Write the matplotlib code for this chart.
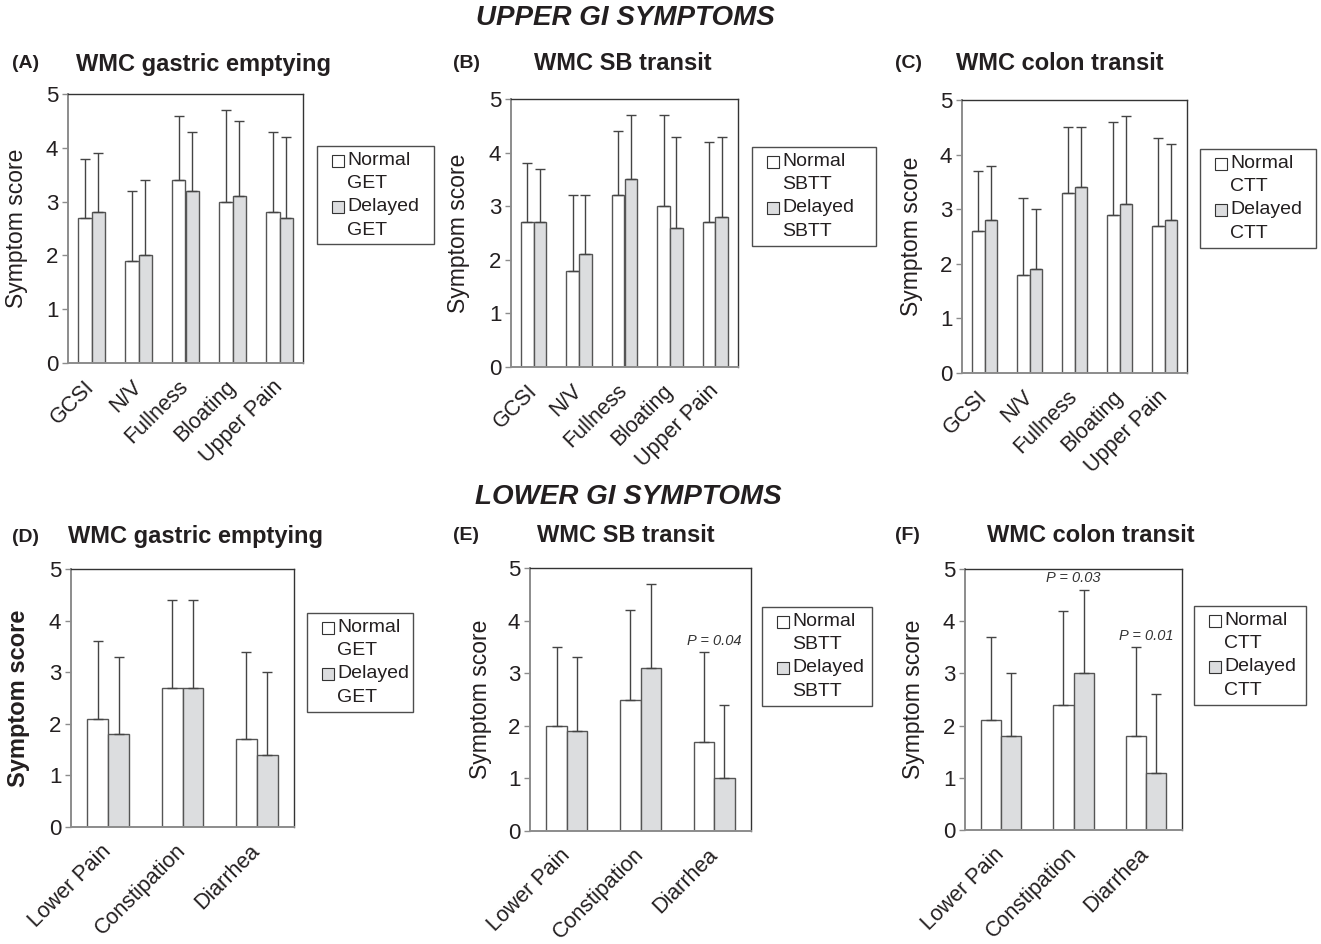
import matplotlib
matplotlib.use('Agg')
import matplotlib.pyplot as plt
import numpy as np
from matplotlib.patches import Patch, Rectangle
from matplotlib.legend_handler import HandlerPatch

plt.rcParams['font.family'] = ['Liberation Sans', 'DejaVu Sans']

W, H = 1321, 944

upper_categories = ['GCSI', 'N/V', 'Fullness', 'Bloating', 'Upper Pain']
lower_categories = ['Lower Pain', 'Constipation', 'Diarrhea']

# Panel A - WMC gastric emptying (upper)
a_normal = [2.7, 1.9, 3.4, 3.0, 2.8]
a_normal_sd = [1.1, 1.3, 1.2, 1.7, 1.5]
a_delayed = [2.8, 2.0, 3.2, 3.1, 2.7]
a_delayed_sd = [1.1, 1.4, 1.1, 1.4, 1.5]

# Panel B - WMC SB transit (upper)
b_normal = [2.7, 1.8, 3.2, 3.0, 2.7]
b_normal_sd = [1.1, 1.4, 1.2, 1.7, 1.5]
b_delayed = [2.7, 2.1, 3.5, 2.6, 2.8]
b_delayed_sd = [1.0, 1.1, 1.2, 1.7, 1.5]

# Panel C - WMC colon transit (upper)
c_normal = [2.6, 1.8, 3.3, 2.9, 2.7]
c_normal_sd = [1.1, 1.4, 1.2, 1.7, 1.6]
c_delayed = [2.8, 1.9, 3.4, 3.1, 2.8]
c_delayed_sd = [1.0, 1.1, 1.1, 1.6, 1.4]

# Panel D - WMC gastric emptying (lower)
d_normal = [2.1, 2.7, 1.7]
d_normal_sd = [1.5, 1.7, 1.7]
d_delayed = [1.8, 2.7, 1.4]
d_delayed_sd = [1.5, 1.7, 1.6]

# Panel E - WMC SB transit (lower)
e_normal = [2.0, 2.5, 1.7]
e_normal_sd = [1.5, 1.7, 1.7]
e_delayed = [1.9, 3.1, 1.0]
e_delayed_sd = [1.4, 1.6, 1.4]

# Panel F - WMC colon transit (lower)
f_normal = [2.1, 2.4, 1.8]
f_normal_sd = [1.6, 1.8, 1.7]
f_delayed = [1.8, 3.0, 1.1]
f_delayed_sd = [1.2, 1.6, 1.5]

e_pvalues = {2: 'P = 0.04'}
f_pvalues = {1: 'P = 0.03', 2: 'P = 0.01'}

yticks = [0, 1, 2, 3, 4, 5]

TXT = '#231f20'
NORMAL_C = 'white'
DELAYED_C = '#dcdddf'
EDGE = '#555555'

fig = plt.figure(figsize=(W / 100, H / 100), dpi=100)


def fx(x):
    return x / W


def fy(y):
    return 1 - y / H


def make_axes(l, t, r, b):
    return fig.add_axes([fx(l), fy(b), (r - l) / W, (b - t) / H])


def square_top(legend, orig_handle, xdescent, ydescent, width, height, fontsize):
    s = 0.62 * fontsize
    return Rectangle((-xdescent + width - s, -ydescent + 0.6 * fontsize), s, s)


panels = [
    ('(A)', 'WMC gastric emptying', upper_categories, a_normal, a_normal_sd, a_delayed, a_delayed_sd,
     'GET', (68, 94, 303, 363), (317, 146, 434, 244), 28, 76, 12, 64, {}, False),
    ('(B)', 'WMC SB transit', upper_categories, b_normal, b_normal_sd, b_delayed, b_delayed_sd,
     'SBTT', (511, 99, 738, 367), (752, 147, 876, 244), 470, 534, 453, 64, {}, False),
    ('(C)', 'WMC colon transit', upper_categories, c_normal, c_normal_sd, c_delayed, c_delayed_sd,
     'CTT', (962, 100, 1187, 373), (1200, 149, 1316, 244), 923, 956, 895, 64, {}, False),
    ('(D)', 'WMC gastric emptying', lower_categories, d_normal, d_normal_sd, d_delayed, d_delayed_sd,
     'GET', (71, 569, 294, 827), (307, 613, 413, 701), 30, 68, 12, 537, {}, True),
    ('(E)', 'WMC SB transit', lower_categories, e_normal, e_normal_sd, e_delayed, e_delayed_sd,
     'SBTT', (530, 568, 751, 831), (762, 607, 872, 705), 492, 537, 453, 536, e_pvalues, False),
    ('(F)', 'WMC colon transit', lower_categories, f_normal, f_normal_sd, f_delayed, f_delayed_sd,
     'CTT', (965, 569, 1182, 830), (1194, 606, 1306, 702), 925, 987, 895, 536, f_pvalues, False),
]

bw = 0.28
for (letter, title, cats, nv, nsd, dv, dsd, grp, box, legbox, labx, titx, letx, tity,
     pvals, boldlab) in panels:
    ax = make_axes(*box)
    x = np.arange(len(cats))
    ekw = dict(ecolor='#444444', elinewidth=1.0, capthick=1.0)
    ax.bar(x - bw / 2, nv, bw, color=NORMAL_C, edgecolor=EDGE, linewidth=1.0,
           yerr=[np.zeros(len(nv)), nsd], capsize=3.5, error_kw=ekw, zorder=2)
    ax.bar(x + bw / 2, dv, bw, color=DELAYED_C, edgecolor=EDGE, linewidth=1.0,
           yerr=[np.zeros(len(dv)), dsd], capsize=3.5, error_kw=ekw, zorder=2)
    ax.set_xlim(-0.5, len(cats) - 0.5)
    ax.set_ylim(0, 5)
    ax.set_yticks(yticks)
    ax.set_yticklabels([str(t) for t in yticks], fontsize=16, color=TXT)
    ax.set_xticks(x)
    ax.set_xticklabels(cats, fontsize=15.5, color=TXT, rotation=45, ha='right',
                       va='center', rotation_mode='anchor')
    ax.tick_params(axis='x', length=0, pad=15)
    ax.tick_params(axis='y', length=4, width=1, color='#8c8c8c', pad=3)
    for s in ['left', 'bottom']:
        ax.spines[s].set_color('#8c8c8c')
        ax.spines[s].set_linewidth(1.4)
    for s in ['top', 'right']:
        ax.spines[s].set_color('#333333')
        ax.spines[s].set_linewidth(1.0)

    if boldlab:
        ax.set_ylabel('Symptom score', fontsize=17, fontweight='bold', color=TXT)
    else:
        ax.set_ylabel('Symptom score', fontsize=16.5, color=TXT)
    l, t, r, b = box
    ax.yaxis.set_label_coords((labx - l) / (r - l), 0.5)

    for idx, txt in pvals.items():
        top = max(nv[idx] + nsd[idx], dv[idx] + dsd[idx])
        ax.text(idx, top + 0.22, txt, fontsize=10.5, style='italic', color='#333333',
                ha='center', va='center')

    handles = [Patch(facecolor=NORMAL_C, edgecolor='#333333', linewidth=0.8),
               Patch(facecolor=DELAYED_C, edgecolor='#333333', linewidth=0.8)]
    lx0, ly0, lx1, ly1 = legbox
    leg = ax.legend(handles, ['Normal\n' + grp, 'Delayed\n' + grp], loc='upper left',
                    bbox_to_anchor=(fx(lx0), fy(ly1), (lx1 - lx0) / W, (ly1 - ly0) / H),
                    bbox_transform=fig.transFigure, mode='expand', fontsize=14,
                    frameon=True, fancybox=False, edgecolor='#222222',
                    handlelength=1.1, handleheight=0.65, handletextpad=0.15,
                    labelspacing=0.3, borderpad=0.3, borderaxespad=0,
                    handler_map={Patch: HandlerPatch(patch_func=square_top)})
    leg.get_frame().set_linewidth(1.0)
    for tx in leg.get_texts():
        tx.set_color(TXT)
        tx.set_linespacing(1.5)

    fig.text(fx(letx), fy(tity), letter, fontsize=14, fontweight='bold', color=TXT,
             ha='left', va='center')
    fig.text(fx(titx), fy(tity), title, fontsize=17, fontweight='bold', color=TXT,
             ha='left', va='center')

fig.text(fx(625), fy(18), 'UPPER GI SYMPTOMS', fontsize=20, fontweight='bold',
         style='italic', color=TXT, ha='center', va='center')
fig.text(fx(628), fy(497), 'LOWER GI SYMPTOMS', fontsize=20, fontweight='bold',
         style='italic', color=TXT, ha='center', va='center')

fig.savefig('out.png', dpi=100, facecolor='white')
